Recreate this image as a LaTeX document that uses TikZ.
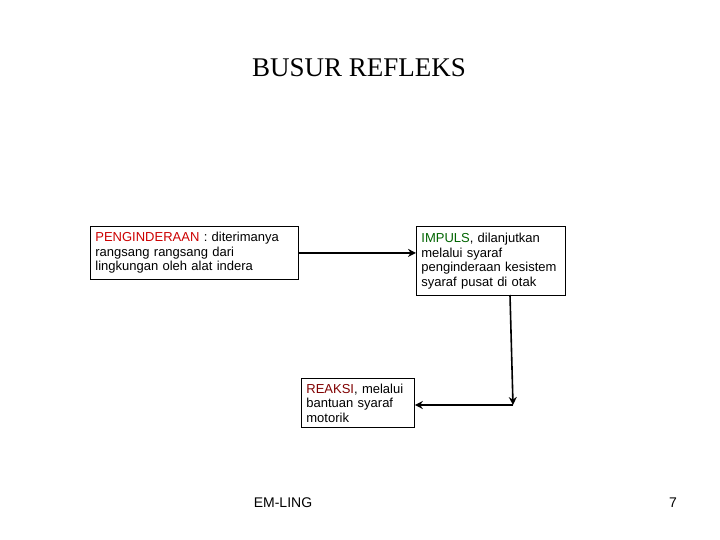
\documentclass[tikz,border=0pt]{standalone}
\usepackage{fontspec}
\setmainfont{Liberation Serif}
\newfontfamily\arial{Liberation Sans}
\usetikzlibrary{arrows.meta}
\definecolor{pred}{RGB}{204,0,0}
\definecolor{igreen}{RGB}{0,100,0}
\definecolor{rdark}{RGB}{128,0,0}
\begin{document}
\begin{tikzpicture}[x=1pt,y=-1pt,
  txtbox/.style={draw=black,line width=0.8pt,anchor=north west,inner xsep=5pt,inner ysep=0pt,
    align=left,font=\arial\fontsize{13}{14.5}\selectfont},
  conn/.style={line width=1.6pt,-{Stealth[length=8pt,width=8pt]}}]
\useasboundingbox (0,0) rectangle (720,540);
\node[font=\fontsize{27}{30}\selectfont] (title) at (359,68) {BUSUR REFLEKS};
\node[txtbox,text width=198pt,minimum height=53pt] (peng) at (90,226)
  {\textcolor{pred}{PENGINDERAAN} : diterimanya\\rangsang rangsang dari\\lingkungan oleh alat indera};
\node[txtbox,text width=139pt,minimum height=69pt] (imp) at (416,226)
  {\textcolor{igreen}{IMPULS}, dilanjutkan\\melalui syaraf\\penginderaan kesistem\\syaraf pusat di otak};
\node[txtbox,text width=103pt,minimum height=49pt] (reak) at (301,378)
  {\textcolor{rdark}{REAKSI}, melalui\\bantuan syaraf\\motorik};
\coordinate (top) at (510,295);
\coordinate (corner) at (513,405);
\draw[conn] (peng.east) -- (imp.west |- peng.east);
\draw[conn] (top) -- (corner);
\draw[conn] (corner) -- (reak.east |- corner);
\node[font=\arial\fontsize{14}{16}\selectfont] (foot) at (283,503) {EM-LING};
\node[font=\arial\fontsize{14}{16}\selectfont] (page) at (673,503) {7};
\end{tikzpicture}
\end{document}
